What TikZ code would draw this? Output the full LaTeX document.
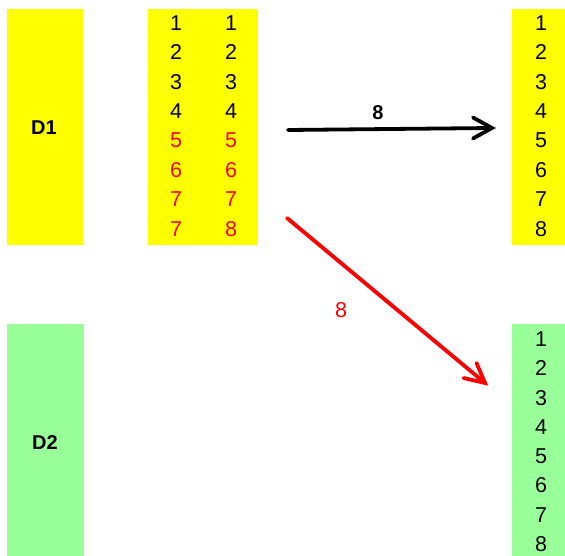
\documentclass[tikz,border=0pt]{standalone}
\usepackage{fontspec}
\setmainfont{Liberation Sans}
\usetikzlibrary{calc}
\definecolor{ylw}{HTML}{FFFF00}
\definecolor{grn}{HTML}{99FF99}
\definecolor{rd}{HTML}{FF0000}
\begin{document}
\begin{tikzpicture}[x=1pt,y=-1pt,
  num/.style={font=\fontsize{21.5}{23}\selectfont,inner sep=0pt,anchor=center},
  lbl/.style={font=\fontsize{20}{22}\selectfont\bfseries,inner sep=0pt},
  arr/.style={line width=3.8pt,line join=miter,line cap=round}]
\useasboundingbox (0,0) rectangle (565,556);
% boxes
\fill[ylw] (7,9) rectangle (83,245);
\fill[ylw] (148,9) rectangle (258,245);
\fill[ylw] (512,9) rectangle (565,245);
\fill[grn] (7,324) rectangle (84,556);
\fill[grn] (512,324) rectangle (565,556);
\node[lbl] (d1) at (44,128) {D1};
\node[lbl] (d2) at (45,443) {D2};
% columns
\foreach \a/\b/\c [count=\k] in {1/1/black,2/2/black,3/3/black,4/4/black,5/5/rd,6/6/rd,7/7/rd,7/8/rd}{
  \node[num,text=\c] (ma\k) at (176,{23+29.4*(\k-1)}) {\a};
  \node[num,text=\c] (mb\k) at (231,{23+29.4*(\k-1)}) {\b};
  \node[num] (r\k) at (541,{23+29.4*(\k-1)}) {\k};
  \node[num] (g\k) at (541,{339+29.3*(\k-1)}) {\k};
}
\coordinate (a1s) at (288,130);
\coordinate (a1e) at (492,128);
\coordinate (a2s) at (287,218);
\coordinate (a2e) at (485,383);
\draw[arr] (a1s) -- (a1e);
\draw[arr] ($(a1e)+(-19,-10.5)$) -- (a1e) -- ($(a1e)+(-19,10.5)$);
\draw[arr,rd] (a2s) -- (a2e);
\draw[arr,rd] ($(a2e)+(-21.5,-5)$) -- (a2e) -- ($(a2e)+(-8.5,-20)$);
\node[lbl] (l1) at (378,113) {8};
\node[num,text=rd] (l2) at (341,310) {8};
\end{tikzpicture}
\end{document}
